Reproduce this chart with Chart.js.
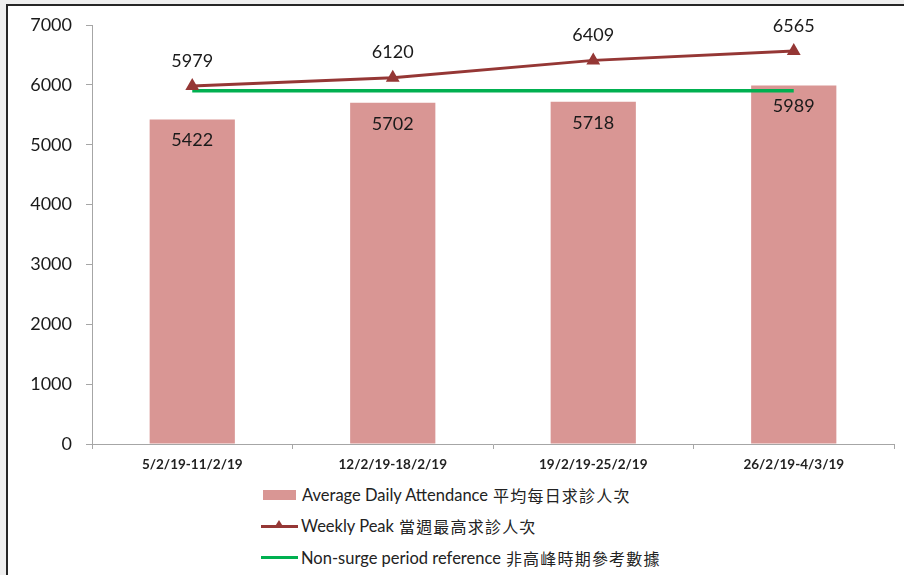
<!DOCTYPE html>
<html lang="en">
<head>
  <meta charset="UTF-8">
  <title>Weekly Attendance</title>
  <script src="https://cdn.jsdelivr.net/npm/chart.js"></script>
  <style>
    body {
      margin: 0;
      background: #efefef;
      font-family: Lato, 'Noto Sans CJK TC', sans-serif;
      width: 904px;
      height: 575px;
      overflow: hidden;
      position: relative;
    }

    .frame {
      position: absolute;
      left: 6px;
      top: 4px;
      width: 1000px;
      height: 700px;
      background: #fff;
      border-left: 2px solid #262626;
      border-top: 2px solid #262626;
    }

    #chart {
      position: absolute;
      left: 0;
      top: 0;
    }

    .legend {
      position: absolute;
      left: 261px;
      top: 479px;
      font-size: 16.5px;
      color: #222;
    }

    .legend .item {
      height: 31.5px;
      display: flex;
      align-items: center;
      position: relative;
    }

    .legend .cjk {
      font-family: 'Noto Sans CJK TC', sans-serif;
      font-size: 16px;
      letter-spacing: 1.2px;
      margin-left: 5px;
    }

    .sw-bar {
      width: 33px;
      height: 10px;
      background: #D99694;
      margin: 0 6px 0 2px;
    }

    .sw-line {
      width: 37px;
      height: 3px;
      margin-right: 3px;
      position: relative;
    }

    .tri {
      position: absolute;
      left: 13px;
      top: -5px;
      width: 0;
      height: 0;
      border-left: 5px solid transparent;
      border-right: 5px solid transparent;
      border-bottom: 8px solid #953735;
    }
  </style>
</head>
<body>

  <canvas id="chart" width="904" height="470"></canvas>

  <div class="legend">
    <div class="item"><span class="sw-bar"></span>Average Daily Attendance<span class="cjk">平均每日求診人次</span></div>
    <div class="item"><span class="sw-line" style="background:#953735"><span class="tri"></span></span>Weekly Peak<span class="cjk">當週最高求診人次</span></div>
    <div class="item"><span class="sw-line" style="background:#00B050"></span>Non-surge period reference<span class="cjk">非高峰時期參考數據</span></div>
  </div>

  <script>
    const weeks = ['5/2/19-11/2/19', '12/2/19-18/2/19', '19/2/19-25/2/19', '26/2/19-4/3/19'];
    const avgDaily = [5422, 5702, 5718, 5989];
    const weeklyPeak = [5979, 6120, 6409, 6565];
    const nonSurge = [5900, 5900, 5900, 5900];
    const yTicks = [0, 1000, 2000, 3000, 4000, 5000, 6000, 7000];

    // draw the frame behind the canvas
    const frame = document.createElement('div');
    frame.className = 'frame';
    document.body.insertBefore(frame, document.body.firstChild);

    // value labels: inside bar tops, above the peak line
    const valueLabels = {
      id: 'valueLabels',
      afterDatasetsDraw(chart) {
        const ctx = chart.ctx;
        ctx.save();
        ctx.font = '18px Lato';
        ctx.fillStyle = '#1a1a1a';
        ctx.textAlign = 'center';
        ctx.textBaseline = 'middle';
        chart.getDatasetMeta(0).data.forEach((el, i) => {
          ctx.fillText(avgDaily[i], el.x, el.y + 21);
        });
        chart.getDatasetMeta(1).data.forEach((el, i) => {
          ctx.fillText(weeklyPeak[i], el.x, el.y - 25);
        });
        ctx.restore();
      }
    };

    new Chart(document.getElementById('chart'), {
      data: {
        labels: weeks,
        datasets: [
          {
            type: 'bar',
            label: 'Average Daily Attendance 平均每日求診人次',
            data: avgDaily,
            backgroundColor: '#D99694',
            barPercentage: 0.425,
            categoryPercentage: 1,
            order: 3
          },
          {
            type: 'line',
            label: 'Weekly Peak 當週最高求診人次',
            data: weeklyPeak,
            borderColor: '#953735',
            backgroundColor: '#953735',
            borderWidth: 3,
            pointStyle: 'triangle',
            pointRadius: 5,
            tension: 0,
            order: 1
          },
          {
            type: 'line',
            label: 'Non-surge period reference 非高峰時期參考數據',
            data: nonSurge,
            borderColor: '#00B050',
            borderWidth: 3.5,
            pointRadius: 0,
            tension: 0,
            order: 2
          }
        ]
      },
      options: {
        responsive: false,
        animation: false,
        devicePixelRatio: 1,
        layout: { padding: { left: 0, right: 10, top: 25, bottom: 0 } },
        plugins: {
          legend: { display: false },
          tooltip: { enabled: false }
        },
        scales: {
          x: {
            grid: {
              offset: true,
              drawOnChartArea: false,
              color: '#a6a6a6',
              tickLength: 5
            },
            border: { color: '#a6a6a6', width: 1 },
            ticks: {
              color: '#222',
              font: { family: 'Lato', size: 13.5, weight: 'bold' },
              padding: 8,
              maxRotation: 0
            },
            afterFit(scale) { scale.height = 26; }
          },
          y: {
            min: 0,
            max: 7000,
            afterBuildTicks(scale) {
              scale.ticks = yTicks.map(v => ({ value: v }));
            },
            grid: {
              drawOnChartArea: false,
              color: '#a6a6a6',
              tickLength: 6
            },
            border: { color: '#a6a6a6', width: 1 },
            ticks: {
              color: '#1a1a1a',
              font: { family: 'Lato', size: 18 },
              padding: 14,
              callback: v => String(v)
            },
            afterFit(scale) { scale.width = 92; }
          }
        }
      },
      plugins: [valueLabels]
    });
  </script>

</body>
</html>
